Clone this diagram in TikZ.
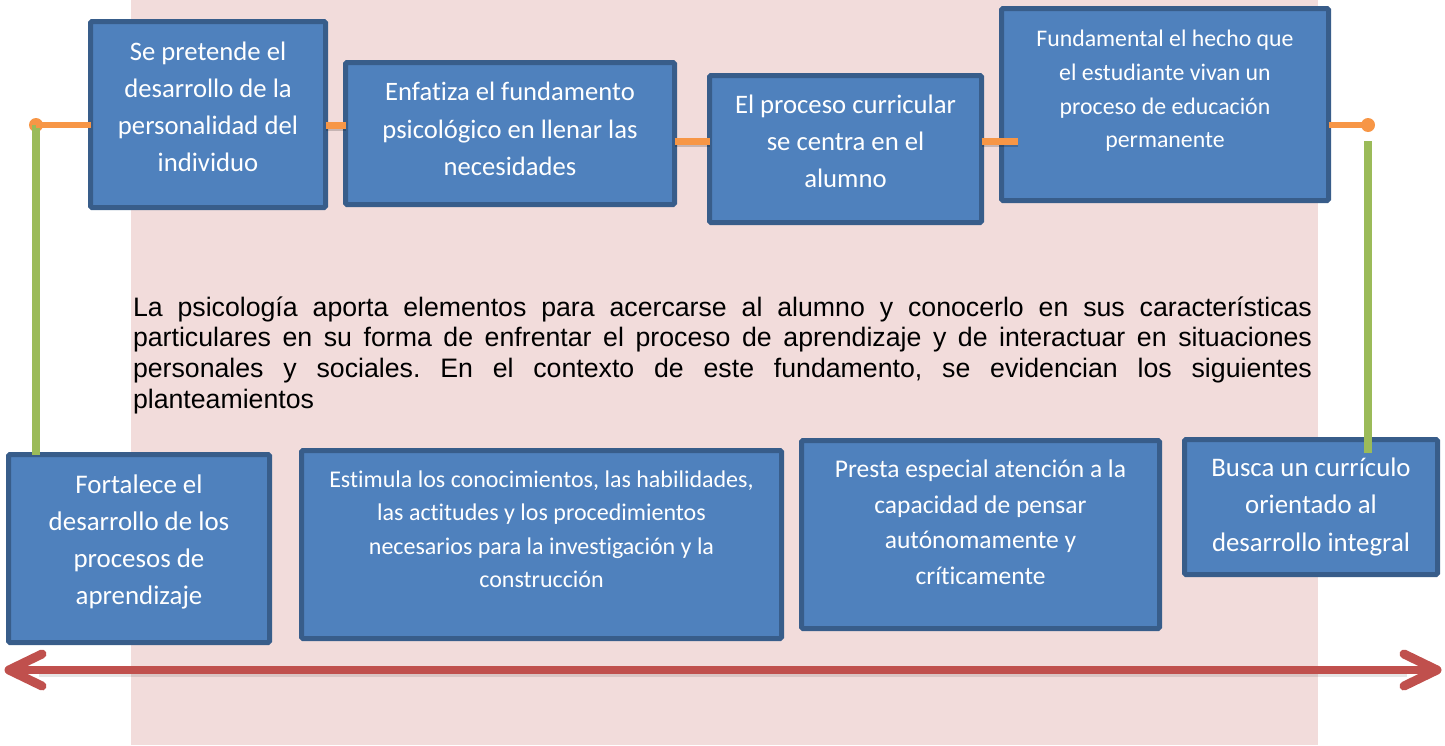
\documentclass[tikz,border=0pt]{standalone}
\usepackage{fontspec}
\setmainfont{Carlito}[Ligatures={NoCommon,NoContextual}]
\newfontfamily\arialf{Liberation Sans}
\definecolor{pinkbg}{HTML}{F2DCDB}
\definecolor{boxfill}{HTML}{4F81BD}
\definecolor{boxline}{HTML}{385D8A}
\definecolor{orangec}{HTML}{F79646}
\definecolor{greenc}{HTML}{9BBB59}
\definecolor{redc}{HTML}{C0504D}
\begin{document}
\begin{tikzpicture}[x=1pt,y=-1pt,
  box/.style={draw=boxline, fill=boxfill, line width=5pt, inner sep=0pt, outer sep=0pt, rounded corners=1.5pt},
  boxtext/.style={text=white, inner sep=0pt, outer sep=0pt, anchor=base},
  orangeline/.style={draw=orangec, line width=6pt},
  orangeseg/.style={draw=orangec, line width=7pt},
  greenline/.style={draw=greenc, line width=8pt},
  redarrow/.style={draw=redc, line width=8pt, line cap=round, line join=round},
  shadowline/.style={draw=black, opacity=0.18, line width=8pt},
  dot/.style={circle, fill=orangec, minimum size=14pt, inner sep=0pt, outer sep=0pt}]
\useasboundingbox (0,0) rectangle (1445,745);
\fill[pinkbg] (131,0) rectangle (1318,745);

% top boxes
\node[box, minimum width=235pt, minimum height=186pt] (b1) at (208,114.5) {};
\node[box, minimum width=329pt, minimum height=142pt] (b2) at (510,133.5) {};
\node[box, minimum width=272pt, minimum height=147pt] (b3) at (845.5,149) {};
\node[box, minimum width=327pt, minimum height=192pt] (b4) at (1165,104.5) {};
% bottom boxes
\node[box, minimum width=261pt, minimum height=188pt] (b5) at (139,548.5) {};
\node[box, minimum width=480pt, minimum height=188pt] (b6) at (541.5,544.5) {};
\node[box, minimum width=358pt, minimum height=188pt] (b7) at (980.5,534.5) {};
\node[box, minimum width=253pt, minimum height=135pt] (b8) at (1311,507) {};

% texts
\node[boxtext] (t1) at (208,60) {\parbox[t]{230pt}{\centering\fontsize{26.7}{37}\selectfont Se pretende el\\desarrollo de la\\personalidad del\\individuo}};
\node[boxtext] (t2) at (510,100.7) {\parbox[t]{320pt}{\centering\fontsize{26.6}{37.5}\selectfont Enfatiza el fundamento\\psicológico en llenar las\\necesidades}};
\node[boxtext] (t3) at (845.5,113.3) {\parbox[t]{265pt}{\centering\fontsize{26.7}{37.3}\selectfont El proceso curricular\\se centra en el\\alumno}};
\node[boxtext] (t4) at (1165,46.7) {\parbox[t]{320pt}{\centering\fontsize{23.8}{33.7}\selectfont Fundamental el hecho que\\el estudiante vivan un\\proceso de educación\\permanente}};
\node[boxtext] (t5) at (139,493.3) {\parbox[t]{255pt}{\centering\fontsize{26.9}{37}\selectfont Fortalece el\\desarrollo de los\\procesos de\\aprendizaje}};
\node[boxtext] (t6) at (541.5,487.3) {\parbox[t]{470pt}{\centering\fontsize{24}{33.5}\selectfont Estimula los conocimientos, las habilidades,\\las actitudes y los procedimientos\\necesarios para la investigación y la\\construcción}};
\node[boxtext] (t7) at (980.5,477.7) {\parbox[t]{350pt}{\centering\fontsize{25.5}{35.5}\selectfont Presta especial atención a la\\capacidad de pensar\\autónomamente y\\críticamente}};
\node[boxtext] (t8) at (1311,476) {\parbox[t]{250pt}{\centering\fontsize{26.8}{37.8}\selectfont Busca un currículo\\orientado al\\desarrollo integral}};

% paragraph
\node[anchor=base west, inner sep=0pt, outer sep=0pt, text=black] (par) at (133,316) {\parbox[t]{1179pt}{\arialf\frenchspacing\fontsize{26.7}{30.7}\selectfont
\makebox[1179pt][s]{La psicología aporta elementos para acercarse al alumno y conocerlo en sus características}\\
\makebox[1179pt][s]{particulares en su forma de enfrentar el proceso de aprendizaje y de interactuar en situaciones}\\
\makebox[1179pt][s]{personales y sociales. En el contexto de este fundamento, se evidencian los siguientes}\\
\makebox[1179pt][l]{planteamientos}}};

% connectors
\coordinate (h125) at (0,125);
\coordinate (h141) at (0,141);
\node[dot] (dL) at (36,125) {};
\node[dot] (dR) at (1368,125) {};
\draw[greenline] (dL.center) -- (dL.center |- b5.north);
\draw[orangeline] (dL.center) -- (dL.center -| b1.west);
\draw[orangeline] (b4.east |- h125) -- (dR.center);
\draw[greenline] (dR.center |- h141) -- ([yshift=-13.5pt]dR.center |- b8.north);
\draw[shadowline, line width=6pt] ([yshift=-3pt]b1.east |- h125) -- ([yshift=-3pt]b2.west |- h125);
\draw[orangeseg] (b1.east |- h125) -- (b2.west |- h125);
\draw[shadowline, line width=6pt] ([yshift=-3pt]b2.east |- h141) -- ([yshift=-3pt]b3.west |- h141);
\draw[orangeseg] (b2.east |- h141) -- (b3.west |- h141);
\draw[shadowline, line width=6pt] ([yshift=-3pt]b3.east |- h141) -- ([yshift=-3pt,xshift=16.5pt]b4.west |- h141);
\draw[orangeseg] (b3.east |- h141) -- ([xshift=16.5pt]b4.west |- h141);

% red double arrow
\coordinate (aL) at (9,670);
\coordinate (aR) at (1437,670);
\draw[shadowline, opacity=0.10, line width=6pt] ([yshift=-4pt,xshift=30pt]aL) -- ([yshift=-4pt,xshift=-30pt]aR);
\draw[redarrow] (aL) -- (aR);
\draw[redarrow, line width=9pt] ([shift={(33,-16)}]aL) -- (aL) -- ([shift={(33,16)}]aL);
\draw[redarrow, line width=9pt] ([shift={(-33,-16)}]aR) -- (aR) -- ([shift={(-33,16)}]aR);
\end{tikzpicture}
\end{document}
